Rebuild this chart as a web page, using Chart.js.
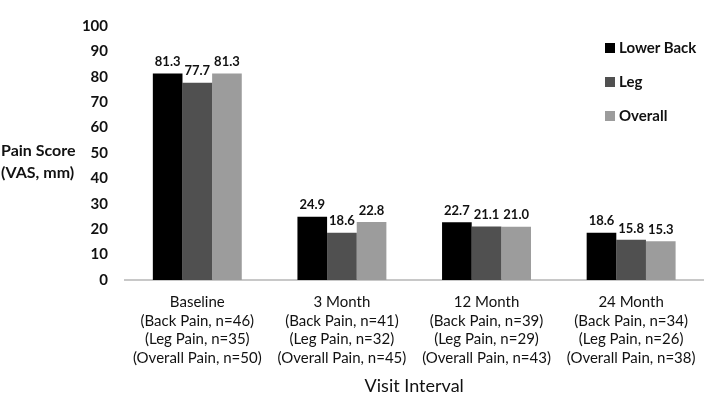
<!DOCTYPE html>
<html>
<head>
<meta charset="utf-8">
<script src="https://cdn.jsdelivr.net/npm/chart.js@4"></script>
<style>
  html, body { margin: 0; padding: 0; background: #fff; }
  #wrap { position: relative; width: 709px; height: 402px; }
  #leyenda { position: absolute; left: 605px; top: 38px; font: bold 15px Lato, sans-serif; color: #111; }
  #leyenda div { height: 34px; display: flex; align-items: flex-start; }
  #leyenda span { display: inline-block; width: 10px; height: 10px; margin: 5px 4px 0 0; }
</style>
</head>
<body>
<div id="wrap">
  <canvas id="chart-dolor" width="709" height="402"></canvas>
  <div id="leyenda"></div>
</div>
<script>
var categorias = [
  ['Baseline', '(Back Pain, n=46)', '(Leg Pain, n=35)', '(Overall Pain, n=50)'],
  ['3 Month', '(Back Pain, n=41)', '(Leg Pain, n=32)', '(Overall Pain, n=45)'],
  ['12 Month', '(Back Pain, n=39)', '(Leg Pain, n=29)', '(Overall Pain, n=43)'],
  ['24 Month', '(Back Pain, n=34)', '(Leg Pain, n=26)', '(Overall Pain, n=38)']
];
var lowerBack = [81.3, 24.9, 22.7, 18.6];
var leg = [77.7, 18.6, 21.1, 15.8];
var overall = [81.3, 22.8, 21.0, 15.3];
var series = ['Lower Back', 'Leg', 'Overall'];
var colores = ['#000000', '#505050', '#9c9c9c'];

// etiquetas de valor encima de cada barra
var etiquetasValor = {
  id: 'etiquetasValor',
  afterDatasetsDraw: function(chart) {
    var ctx = chart.ctx;
    ctx.save();
    ctx.font = 'bold 13px Lato, sans-serif';
    ctx.fillStyle = '#111';
    ctx.textAlign = 'center';
    ctx.textBaseline = 'bottom';
    chart.data.datasets.forEach(function(ds, i) {
      chart.getDatasetMeta(i).data.forEach(function(bar, j) {
        ctx.fillText(ds.data[j].toFixed(1), bar.x, bar.y - 5);
      });
    });
    ctx.restore();
  }
};

// titulo horizontal del eje Y
var tituloY = {
  id: 'tituloY',
  afterDraw: function(chart) {
    var ctx = chart.ctx;
    ctx.save();
    ctx.font = 'bold 16px Lato, sans-serif';
    ctx.fillStyle = '#111';
    ctx.textAlign = 'left';
    ctx.textBaseline = 'middle';
    ctx.fillText('Pain Score', 1, 151);
    ctx.fillText('(VAS, mm)', 1, 173);
    ctx.restore();
  }
};

var ctx = document.getElementById('chart-dolor').getContext('2d');
new Chart(ctx, {
  type: 'bar',
  data: {
    labels: categorias,
    datasets: [
      { label: series[0], data: lowerBack, backgroundColor: colores[0] },
      { label: series[1], data: leg, backgroundColor: colores[1] },
      { label: series[2], data: overall, backgroundColor: colores[2] }
    ]
  },
  options: {
    responsive: false,
    animation: false,
    layout: { padding: { top: 7, right: 4, left: 0, bottom: 0 } },
    plugins: { legend: { display: false }, tooltip: { enabled: false } },
    datasets: { bar: { barPercentage: 1, categoryPercentage: 0.615 } },
    scales: {
      y: {
        min: 0, max: 100,
        ticks: { stepSize: 10, padding: 17, color: '#111', font: { family: 'Lato', size: 15, weight: 'bold' } },
        grid: { display: false, drawTicks: false },
        border: { display: false },
        afterFit: function(s) { s.width = 125; }
      },
      x: {
        ticks: { color: '#111', padding: 13, maxRotation: 0, autoSkip: false, font: { family: 'Lato', size: 15, lineHeight: 1.24 } },
        grid: { display: false, drawTicks: false },
        border: { color: '#c8c8c8', width: 2 },
        title: { display: true, text: 'Visit Interval', color: '#111', font: { family: 'Lato', size: 18 }, padding: { top: 8, bottom: 5 } },
        afterFit: function(s) { s.height = 122; }
      }
    }
  },
  plugins: [etiquetasValor, tituloY]
});

var leyenda = document.getElementById('leyenda');
series.forEach(function(nombre, i) {
  var d = document.createElement('div');
  d.innerHTML = '<span style="background:' + colores[i] + '"></span>' + nombre;
  leyenda.appendChild(d);
});
</script>
</body>
</html>
